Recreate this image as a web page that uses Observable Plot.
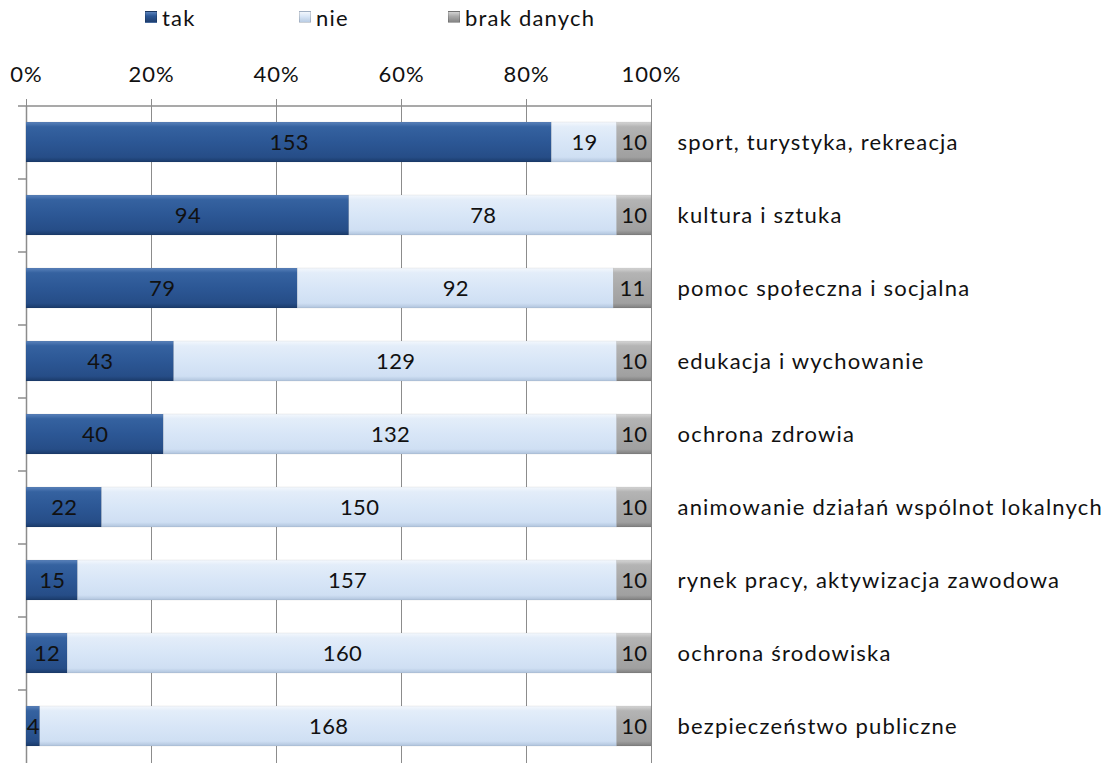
<!DOCTYPE html>
<html>
<head>
<meta charset="utf-8">
<script src="https://cdn.jsdelivr.net/npm/d3@7"></script>
<script src="https://cdn.jsdelivr.net/npm/@observablehq/plot@0.6"></script>
<style>
  html, body { margin: 0; padding: 0; background: #fff; overflow: hidden; }
  #wrap { position: relative; width: 1110px; height: 763px; font-family: Lato, "Open Sans", sans-serif; }
  #legend { position: absolute; top: 3px; left: 0; width: 1110px; height: 28px; font-size: 22px; letter-spacing: 1.2px; color: #111; }
  .item { position: absolute; top: 0; display: flex; align-items: center; height: 28px; }
  .sw { width: 12px; height: 12px; margin-right: 5px; border: 1px solid rgba(0,0,0,0.15); box-sizing: border-box; }
  #chart { position: absolute; top: 0; left: 0; }
  #chart g[aria-label="y-axis tick label"] text { letter-spacing: 1.2px; }
  #chart g[aria-label="x-axis tick label"] text { letter-spacing: 1px; }
  #chart g[aria-label="text"] text { letter-spacing: 0.3px; }
</style>
</head>
<body>
<div id="wrap">
  <div id="chart"></div>
  <div id="legend"></div>
</div>
<script>
const categories = [
  "sport, turystyka, rekreacja",
  "kultura i sztuka",
  "pomoc społeczna i socjalna",
  "edukacja i wychowanie",
  "ochrona zdrowia",
  "animowanie działań wspólnot lokalnych",
  "rynek pracy, aktywizacja zawodowa",
  "ochrona środowiska",
  "bezpieczeństwo publiczne"
];
const seriesNames = ["tak", "nie", "brak danych"];
const tak  = [153, 94, 79, 43, 40, 22, 15, 12, 4];
const nie  = [19, 78, 92, 129, 132, 150, 157, 160, 168];
const brak = [10, 10, 11, 10, 10, 10, 10, 10, 10];
const xTicks = [0, 0.2, 0.4, 0.6, 0.8, 1];

const seriesValues = [tak, nie, brak];
const data = [];
categories.forEach((c, i) => {
  seriesNames.forEach((s, j) => data.push({category: c, series: s, value: seriesValues[j][i]}));
});

const W = 1110, H = 763, mTop = 106, mBottom = 0, mLeft = 26, mRight = 459;
const step = (H - mTop - mBottom) / categories.length;
const gridColor = "#8c8c8c";
const fills = ["url(#gTak)", "url(#gNie)", "url(#gBrak)"];
const legendFills = [
  "linear-gradient(#5a82bb, #2c5795 40%, #1f3f70)",
  "linear-gradient(#f2f7fd, #d8e6f7 45%, #b9cce3)",
  "linear-gradient(#d2d2d2, #a8a8a8 45%, #858585)"
];

const chart = Plot.plot({
  width: W,
  height: H,
  marginTop: mTop,
  marginBottom: mBottom,
  marginLeft: mLeft,
  marginRight: mRight,
  style: {fontFamily: "Lato, 'Open Sans', sans-serif", fontSize: "22px", color: "#111", background: "transparent"},
  x: {domain: [0, 1]},
  y: {domain: categories, paddingInner: 0.45, paddingOuter: 0.225},
  color: {type: "ordinal", domain: seriesNames, range: fills},
  marks: [
    Plot.gridX(xTicks, {stroke: gridColor, strokeOpacity: 1, strokeWidth: 1}),
    Plot.ruleX([0], {stroke: gridColor, strokeWidth: 1.5}),
    Plot.ruleY([categories[0]], {dy: -step / 2, stroke: gridColor, strokeWidth: 1.5}),
    Plot.axisX({anchor: "top", ticks: xTicks, tickSize: 8, tickPadding: 17, stroke: gridColor, tickFormat: d => Math.round(d * 100) + "%", label: null, fontSize: 22, fill: "#111"}),
    Plot.axisY({anchor: "left", tickSize: 8, tickFormat: null, dy: -step / 2, stroke: gridColor, strokeWidth: 1.5, label: null}),
    Plot.barX(data, Plot.stackX({x: "value", y: "category", z: "series", fill: "series", offset: "normalize", order: seriesNames, stroke: "rgba(0,0,0,0.12)", strokeWidth: 0.5})),
    Plot.text(data, Plot.stackX({x: "value", y: "category", z: "series", text: "value", offset: "normalize", order: seriesNames, fill: "#111", fontSize: 22})),
    Plot.axisY({anchor: "right", tickSize: 0, tickPadding: 26, label: null, fontSize: 22, fill: "#111"})
  ]
});

// gradient definitions for the bevelled bar look
const svgNS = "http://www.w3.org/2000/svg";
const svg = chart.tagName.toLowerCase() === "svg" ? chart : chart.querySelector("svg");
const defs = document.createElementNS(svgNS, "defs");
const grads = [
  ["gTak", [[0, "#5a82bb"], [0.12, "#3562a0"], [0.5, "#2c5795"], [0.88, "#264d87"], [1, "#1a3a69"]]],
  ["gNie", [[0, "#f4f8fd"], [0.12, "#e3edf9"], [0.5, "#d8e6f7"], [0.88, "#cfdff3"], [1, "#afc3dc"]]],
  ["gBrak", [[0, "#d6d6d6"], [0.12, "#b4b4b4"], [0.5, "#a9a9a9"], [0.88, "#a0a0a0"], [1, "#7e7e7e"]]]
];
grads.forEach(([id, stops]) => {
  const g = document.createElementNS(svgNS, "linearGradient");
  g.setAttribute("id", id);
  g.setAttribute("x1", "0"); g.setAttribute("y1", "0");
  g.setAttribute("x2", "0"); g.setAttribute("y2", "1");
  stops.forEach(([o, c]) => {
    const s = document.createElementNS(svgNS, "stop");
    s.setAttribute("offset", o);
    s.setAttribute("stop-color", c);
    g.appendChild(s);
  });
  defs.appendChild(g);
});
svg.insertBefore(defs, svg.firstChild);
document.getElementById("chart").appendChild(chart);

// legend
const legendX = [145, 299, 448];
const legend = document.getElementById("legend");
seriesNames.forEach((s, i) => {
  const item = document.createElement("div");
  item.className = "item";
  item.style.left = legendX[i] + "px";
  const sw = document.createElement("span");
  sw.className = "sw";
  sw.style.background = legendFills[i];
  const t = document.createElement("span");
  t.textContent = s;
  item.appendChild(sw);
  item.appendChild(t);
  legend.appendChild(item);
});
</script>
</body>
</html>
